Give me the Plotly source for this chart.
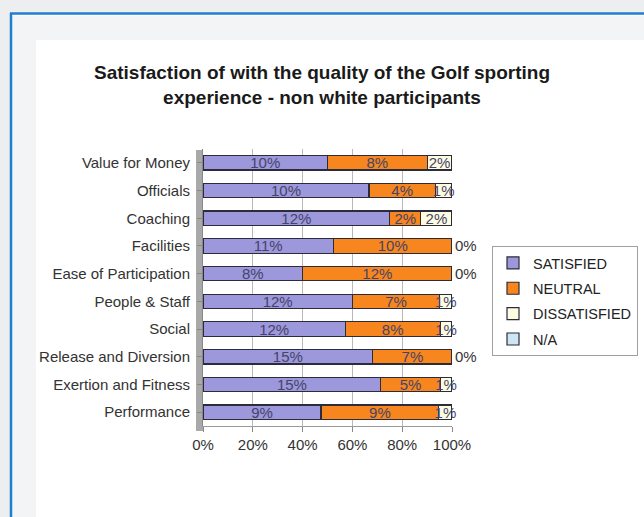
import math
import plotly.graph_objects as go

categories = ["Value for Money", "Officials", "Coaching", "Facilities", "Ease of Participation",
              "People & Staff", "Social", "Release and Diversion", "Exertion and Fitness", "Performance"]
satisfied = [10, 10, 12, 11, 8, 12, 12, 15, 15, 9]
neutral = [8, 4, 2, 10, 12, 7, 8, 7, 5, 9]
dissatisfied = [2, 1, 2, 0, 0, 1, 1, 0, 1, 1]
na = [None] * 10
series_names = ["SATISFIED", "NEUTRAL", "DISSATISFIED", "N/A"]
colors = ["#9d97db", "#f7861f", "#fdfce0", "#cde6f6"]
x_ticks = [0, 20, 40, 60, 80, 100]
x_tick_labels = ["0%", "20%", "40%", "60%", "80%", "100%"]
title_text = "Satisfaction of with the quality of the Golf sporting<br>experience - non white participants"

# 100% stacked: share of each row total (floored slightly so rows never exceed 100)
totals = [s + n + d for s, n, d in zip(satisfied, neutral, dissatisfied)]
def share(vals):
    return [None if v is None else math.floor(v / t * 100 * 1e6) / 1e6 for v, t in zip(vals, totals)]

W, H = 644, 517
L, R, T, B = 203, 452, 149, 426  # plot area in pixels
def px(x): return (x - L) / (R - L)
def py(y): return (B - y) / (B - T)

FONT = "Arial, Liberation Sans, sans-serif"

fig = go.Figure()
for i, (name, vals) in enumerate(zip(series_names, [satisfied, neutral, dissatisfied, na])):
    txt = [("" if v is None else f"{v}%") for v in vals]
    if name == "DISSATISFIED":
        pos = ["outside" if v == 0 else "inside" for v in vals]
    else:
        pos = "inside"
    fig.add_trace(go.Bar(
        y=categories, x=share(vals), name=name, orientation="h",
        marker=dict(color=colors[i], line=dict(color="#2b2b3a", width=1.2)),
        text=txt, textposition=pos, insidetextanchor="middle", constraintext="none",
        textangle=0,
        textfont=dict(family=FONT, size=15, color="#44446a"),
        outsidetextfont=dict(family=FONT, size=15, color="#333333"),
        cliponaxis=False, legendgroup=name, hoverinfo="y+name+text",
    ))

shapes = [
    # outer gray band and blue frame
    dict(type="rect", xref="paper", yref="paper", x0=px(0), x1=px(W), y0=py(13), y1=py(0),
         fillcolor="#eceef0", line=dict(width=0), layer="below"),
    dict(type="rect", xref="paper", yref="paper", x0=px(0), x1=px(10), y0=py(H), y1=py(13),
         fillcolor="#eceef0", line=dict(width=0), layer="below"),
    dict(type="rect", xref="paper", yref="paper", x0=px(12), x1=px(W), y0=py(16), y1=py(40),
         fillcolor="#f3f4f5", line=dict(width=0), layer="below"),
    dict(type="rect", xref="paper", yref="paper", x0=px(12), x1=px(36), y0=py(H), y1=py(16),
         fillcolor="#f3f4f5", line=dict(width=0), layer="below"),
    dict(type="line", xref="paper", yref="paper", x0=px(10), x1=px(W), y0=py(13.5), y1=py(13.5),
         line=dict(color="#1f7ed0", width=2.5)),
    dict(type="line", xref="paper", yref="paper", x0=px(11), x1=px(11), y0=py(13), y1=py(H),
         line=dict(color="#1f7ed0", width=2.5)),
    # left wall
    dict(type="rect", xref="paper", yref="paper", x0=px(196), x1=px(203), y0=py(431), y1=py(150),
         fillcolor="#a9a9a9", line=dict(width=0), layer="below"),
]

fig.update_layout(
    width=W, height=H,
    margin=dict(l=L, r=W - R, t=T, b=H - B, autoexpand=False),
    paper_bgcolor="white", plot_bgcolor="white",
    barmode="stack", bargap=0.48,
    font=dict(family=FONT, size=15, color="#222"),
    title=dict(text=title_text, x=0.5, xanchor="center", y=1 - 79 / H, yanchor="top",
               font=dict(family=FONT, size=19, color="#1a1a1a", weight="bold")),
    xaxis=dict(range=[0, 100], tickvals=x_ticks, ticktext=x_tick_labels, automargin=False,
               showgrid=True, gridcolor="#b8b8b8", gridwidth=1, zeroline=False,
               showline=True, linecolor="#9a9a9a", ticks="outside", ticklen=5, tickcolor="#888",
               tickfont=dict(size=15, color="#333")),
    yaxis=dict(autorange="reversed", showgrid=False, ticks="outside", ticklen=5, tickcolor="#888",
               showline=True, linecolor="#888", ticklabelstandoff=4, automargin=False,
               tickfont=dict(size=15, color="#333")),
    legend=dict(x=492 / W, y=1 - 246 / H, xref="container", yref="container",
                xanchor="left", yanchor="top",
                bordercolor="#a0a0a0", borderwidth=1, bgcolor="white",
                traceorder="grouped", tracegroupgap=3.5, itemwidth=30,
                font=dict(size=14.5, color="#222")),
    shapes=shapes,
    showlegend=True,
)

fig.write_html("out.html", post_script="document.body.style.margin='0';",
               config={"displayModeBar": False})
